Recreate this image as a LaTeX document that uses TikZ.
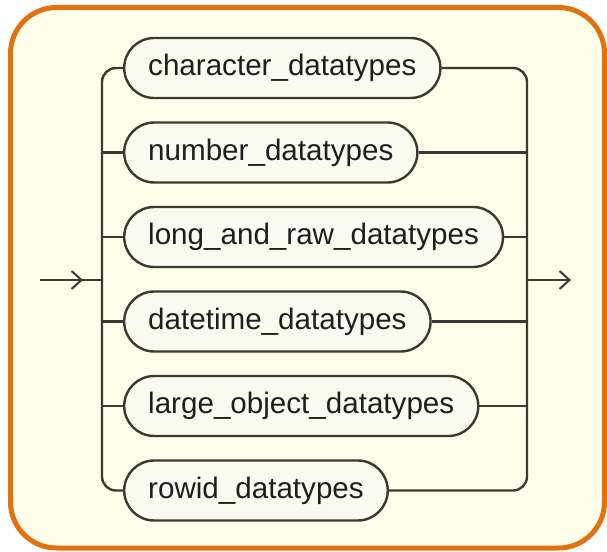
\documentclass[tikz,border=0pt]{standalone}
\usepackage{fontspec}
\setmainfont{Liberation Sans}
\usetikzlibrary{arrows.meta}
\definecolor{framecol}{HTML}{E2720F}
\definecolor{panel}{HTML}{FEFDEA}
\definecolor{pillfill}{HTML}{FAFBF0}
\definecolor{ink}{HTML}{3A3A32}
\definecolor{txt}{HTML}{1E1E1E}
\tikzset{
  pill/.style={draw=ink, fill=pillfill, line width=2.4pt, rounded corners=30pt,
    minimum height=60pt, inner xsep=24pt, inner ysep=0pt, anchor=west,
    text=txt, font=\fontsize{29.6}{34}\selectfont,
    text height=21.5pt, text depth=6.3pt},
  rail/.style={draw=ink, line width=2.4pt},
  chevron/.style={-{Straight Barb[length=10pt,width=18pt,line width=2pt]}}
}
\begin{document}
\begin{tikzpicture}[x=1pt,y=-1pt]
  \useasboundingbox (0,0) rectangle (607,551);
  % outer panel
  \draw[framecol, fill=panel, line width=5pt, rounded corners=46pt]
    (10.5,7.5) rectangle (604.5,548);

  % syntax alternatives
  \node[pill] (c1) at (123,68)    {character\_datatypes};
  \node[pill] (c2) at (123,152.5) {number\_datatypes};
  \node[pill] (c3) at (123,237)   {long\_and\_raw\_datatypes};
  \node[pill] (c4) at (123,321.5) {datetime\_datatypes};
  \node[pill] (c5) at (123,406)   {large\_object\_datatypes};
  \node[pill] (c6) at (123,490.5) {rowid\_datatypes};

  % branch and merge points
  \coordinate (start) at (40,280);
  \coordinate (split) at (102,280);
  \coordinate (merge) at (527,280);
  \coordinate (finish) at (571,280);
  \coordinate (tipin) at (83,280);

  % left rail
  \draw[rail, rounded corners=14pt] (c1.west) -- (c1.west -| split) -- (c6.west -| split) -- (c6.west);
  \foreach \n in {c2,c3,c4,c5} \draw[rail] (\n.west -| split) -- (\n.west);

  % right rail
  \draw[rail, rounded corners=14pt] (c1.east) -- (c1.east -| merge) -- (c6.east -| merge) -- (c6.east);
  \foreach \n in {c2,c3,c4,c5} \draw[rail] (\n.east) -- (\n.east -| merge);

  % entry and exit
  \draw[rail] (start) -- (split);
  \draw[rail, chevron] (start) -- (tipin);
  \draw[rail, chevron] (merge) -- (finish);
\end{tikzpicture}
\end{document}
